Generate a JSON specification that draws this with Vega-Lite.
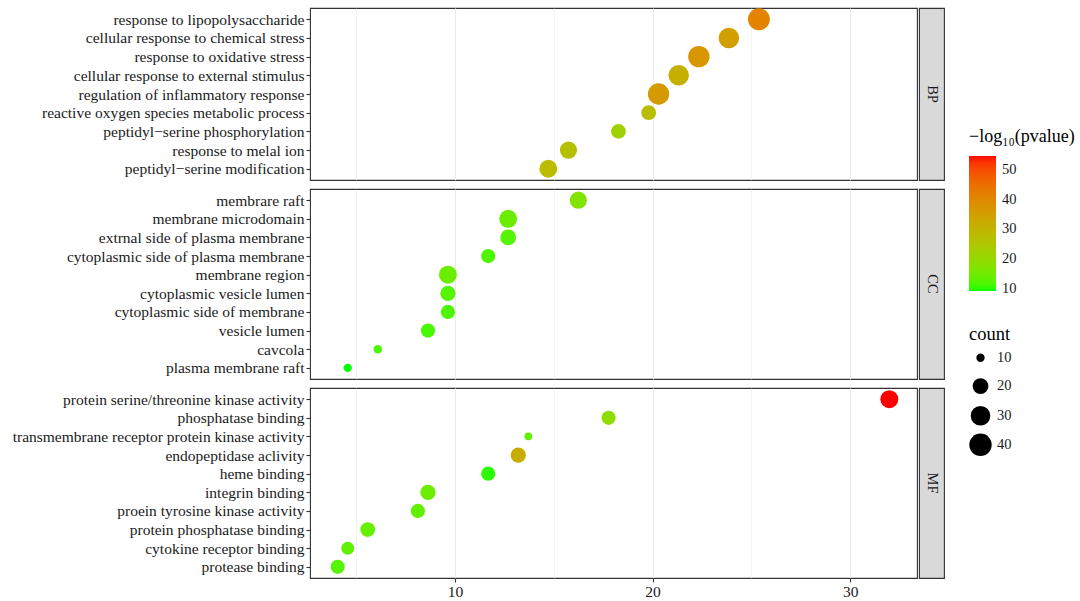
{
  "$schema": "https://vega.github.io/schema/vega-lite/v6.json",
  "background": "white",
  "padding": {"left": 11, "top": 7, "right": 5, "bottom": 2},
  "datasets": {
    "go": [
      {"ont": "BP", "term": "response to lipopolysaccharide", "ratio": 25.38, "count": 38, "logp": 41},
      {"ont": "BP", "term": "cellular response to chemical stress", "ratio": 23.86, "count": 33, "logp": 35},
      {"ont": "BP", "term": "response to oxidative stress", "ratio": 22.34, "count": 36, "logp": 37},
      {"ont": "BP", "term": "cellular response to external stimulus", "ratio": 21.32, "count": 33, "logp": 31},
      {"ont": "BP", "term": "regulation of inflammatory response", "ratio": 20.30, "count": 36, "logp": 36},
      {"ont": "BP", "term": "reactive oxygen species metabolic process", "ratio": 19.80, "count": 18, "logp": 28},
      {"ont": "BP", "term": "peptidyl−serine phosphorylation", "ratio": 18.27, "count": 18, "logp": 22},
      {"ont": "BP", "term": "response to melal ion", "ratio": 15.74, "count": 23, "logp": 27},
      {"ont": "BP", "term": "peptidyl−serine modification", "ratio": 14.72, "count": 25, "logp": 28},
      {"ont": "CC", "term": "membrare raft", "ratio": 16.24, "count": 23, "logp": 17},
      {"ont": "CC", "term": "membrane microdomain", "ratio": 12.69, "count": 25, "logp": 14.5},
      {"ont": "CC", "term": "extrnal side of plasma membrane", "ratio": 12.69, "count": 20, "logp": 12.5},
      {"ont": "CC", "term": "cytoplasmic side of plasma membrane", "ratio": 11.68, "count": 17, "logp": 12},
      {"ont": "CC", "term": "membrane region", "ratio": 9.64, "count": 25, "logp": 14.5},
      {"ont": "CC", "term": "cytoplasmic vesicle lumen", "ratio": 9.64, "count": 19, "logp": 12.5},
      {"ont": "CC", "term": "cytoplasmic side of membrane", "ratio": 9.64, "count": 17, "logp": 12},
      {"ont": "CC", "term": "vesicle lumen", "ratio": 8.63, "count": 17, "logp": 11.5},
      {"ont": "CC", "term": "cavcola", "ratio": 6.09, "count": 10, "logp": 11.5},
      {"ont": "CC", "term": "plasma membrane raft", "ratio": 4.57, "count": 10, "logp": 9.4},
      {"ont": "MF", "term": "protein serine/threonine kinase activity", "ratio": 31.98, "count": 25, "logp": 54.6},
      {"ont": "MF", "term": "phosphatase binding", "ratio": 17.77, "count": 17, "logp": 19},
      {"ont": "MF", "term": "transmembrane receptor protein kinase activity", "ratio": 13.71, "count": 9.5, "logp": 13.5},
      {"ont": "MF", "term": "endopeptidase aclivity", "ratio": 13.20, "count": 19, "logp": 32},
      {"ont": "MF", "term": "heme binding", "ratio": 11.68, "count": 17, "logp": 10.2},
      {"ont": "MF", "term": "integrin binding", "ratio": 8.63, "count": 19, "logp": 14.5},
      {"ont": "MF", "term": "proein tyrosine kinase activity", "ratio": 8.12, "count": 17, "logp": 13.5},
      {"ont": "MF", "term": "protein phosphatase binding", "ratio": 5.58, "count": 18, "logp": 14},
      {"ont": "MF", "term": "cytokine receptor binding", "ratio": 4.57, "count": 15, "logp": 13.5},
      {"ont": "MF", "term": "protease binding", "ratio": 4.06, "count": 17, "logp": 12.5}
    ]
  },
  "config": {
    "font": "Liberation Serif",
    "view": {"stroke": "#333333", "strokeWidth": 1.1},
    "axis": {
      "domain": false, "tickColor": "#333333", "tickSize": 4, "tickWidth": 1.1,
      "labelFont": "Liberation Serif", "labelFontSize": 15.5, "labelColor": "#1a1a1a",
      "gridColor": "#ebebeb", "gridWidth": 1.1, "labelPadding": 2, "labelLimit": 0
    },
    "legend": {
      "titleFont": "Liberation Serif", "labelFont": "Liberation Serif",
      "titleFontSize": 18.5, "labelFontSize": 14.5, "titleFontWeight": "normal",
      "titleColor": "#000000", "labelColor": "#1a1a1a", "titleLimit": 0
    }
  },
  "spacing": 7,
  "resolve": {
    "scale": {"x": "independent", "y": "independent", "color": "shared", "size": "shared"},
    "axis": {"x": "independent", "y": "independent"}
  },
  "vconcat": [
    {
      "spacing": 0,
      "resolve": {"scale": {"color": "shared", "size": "shared"}},
      "hconcat": [
        {
          "width": 607, "height": 172,
          "data": {"name": "go"},
          "transform": [{"filter": "datum.ont === 'BP'"}],
          "mark": {"type": "circle", "opacity": 1},
          "encoding": {
            "x": {"field": "ratio", "type": "quantitative", "title": null,
              "scale": {"domain": [2.66, 33.38], "nice": false, "zero": false},
              "axis": {"values": [5, 10, 15, 20, 25, 30], "labels": false, "ticks": false,
                "gridWidth": {"condition": {"test": "datum.value % 10 === 0", "value": 1.1}, "value": 0.55}}},
            "y": {"field": "term", "type": "nominal", "sort": null, "title": null,
              "scale": {"type": "point", "padding": 0.6}},
            "color": {"field": "logp", "type": "quantitative",
              "scale": {"domain": [9.4, 54.6], "range": ["#00ff00", "#ff0000"], "interpolate": "lab", "zero": false},
              "legend": {"title": "−log₁₀(pvalue)", "orient": "none", "legendX": 659, "legendY": 120,
                "titleFontSize": 18,
                "gradientLength": 135, "gradientThickness": 27, "values": [10, 20, 30, 40, 50],
                "direction": "vertical", "titlePadding": 10, "labelOffset": 6}},
            "size": {"field": "count", "type": "quantitative",
              "scale": {"type": "sqrt", "domain": [10, 40], "range": [69, 502], "zero": false},
              "legend": {"title": "count", "orient": "none", "legendX": 659, "legendY": 317,
                "values": [10, 20, 30, 40], "symbolFillColor": "black", "symbolStrokeColor": "black",
                "symbolStrokeWidth": 0, "symbolType": "circle", "rowPadding": 4.6, "titlePadding": 7,
                "gridAlign": "all", "labelOffset": 5, "symbolOpacity": 1}}
          }
        },
        {
          "width": 25, "height": 172,
          "data": {"name": "go"},
          "transform": [{"filter": "datum.ont === 'BP'"}, {"aggregate": [{"op": "count", "as": "n"}], "groupby": ["ont"]}],
          "view": {"fill": "#d9d9d9", "stroke": "#333333", "strokeWidth": 1.1},
          "mark": {"type": "text", "angle": 90, "fontSize": 14.5, "color": "#1a1a1a", "align": "center", "baseline": "middle"},
          "encoding": {"text": {"field": "ont"}}
        }
      ]
    },
    {
      "spacing": 0,
      "resolve": {"scale": {"color": "shared", "size": "shared"}},
      "hconcat": [
        {
          "width": 607, "height": 190,
          "data": {"name": "go"},
          "transform": [{"filter": "datum.ont === 'CC'"}],
          "mark": {"type": "circle", "opacity": 1},
          "encoding": {
            "x": {"field": "ratio", "type": "quantitative", "title": null,
              "scale": {"domain": [2.66, 33.38], "nice": false, "zero": false},
              "axis": {"values": [5, 10, 15, 20, 25, 30], "labels": false, "ticks": false,
                "gridWidth": {"condition": {"test": "datum.value % 10 === 0", "value": 1.1}, "value": 0.55}}},
            "y": {"field": "term", "type": "nominal", "sort": null, "title": null,
              "scale": {"type": "point", "padding": 0.6}},
            "color": {"field": "logp", "type": "quantitative",
              "scale": {"domain": [9.4, 54.6], "range": ["#00ff00", "#ff0000"], "interpolate": "lab", "zero": false}},
            "size": {"field": "count", "type": "quantitative",
              "scale": {"type": "sqrt", "domain": [10, 40], "range": [69, 502], "zero": false}}
          }
        },
        {
          "width": 25, "height": 190,
          "data": {"name": "go"},
          "transform": [{"filter": "datum.ont === 'CC'"}, {"aggregate": [{"op": "count", "as": "n"}], "groupby": ["ont"]}],
          "view": {"fill": "#d9d9d9", "stroke": "#333333", "strokeWidth": 1.1},
          "mark": {"type": "text", "angle": 90, "fontSize": 14.5, "color": "#1a1a1a", "align": "center", "baseline": "middle"},
          "encoding": {"text": {"field": "ont"}}
        }
      ]
    },
    {
      "spacing": 0,
      "resolve": {"scale": {"color": "shared", "size": "shared"}},
      "hconcat": [
        {
          "width": 607, "height": 190,
          "data": {"name": "go"},
          "transform": [{"filter": "datum.ont === 'MF'"}],
          "mark": {"type": "circle", "opacity": 1},
          "encoding": {
            "x": {"field": "ratio", "type": "quantitative", "title": null,
              "scale": {"domain": [2.66, 33.38], "nice": false, "zero": false},
              "axis": {"values": [5, 10, 15, 20, 25, 30],
                "labelExpr": "datum.value % 10 === 0 ? datum.label : ''",
                "tickOpacity": {"condition": {"test": "datum.value % 10 === 0", "value": 1}, "value": 0},
                "gridWidth": {"condition": {"test": "datum.value % 10 === 0", "value": 1.1}, "value": 0.55}}},
            "y": {"field": "term", "type": "nominal", "sort": null, "title": null,
              "scale": {"type": "point", "padding": 0.6}},
            "color": {"field": "logp", "type": "quantitative",
              "scale": {"domain": [9.4, 54.6], "range": ["#00ff00", "#ff0000"], "interpolate": "lab", "zero": false}},
            "size": {"field": "count", "type": "quantitative",
              "scale": {"type": "sqrt", "domain": [10, 40], "range": [69, 502], "zero": false}}
          }
        },
        {
          "width": 25, "height": 190,
          "data": {"name": "go"},
          "transform": [{"filter": "datum.ont === 'MF'"}, {"aggregate": [{"op": "count", "as": "n"}], "groupby": ["ont"]}],
          "view": {"fill": "#d9d9d9", "stroke": "#333333", "strokeWidth": 1.1},
          "mark": {"type": "text", "angle": 90, "fontSize": 14.5, "color": "#1a1a1a", "align": "center", "baseline": "middle"},
          "encoding": {"text": {"field": "ont"}}
        }
      ]
    }
  ]
}
